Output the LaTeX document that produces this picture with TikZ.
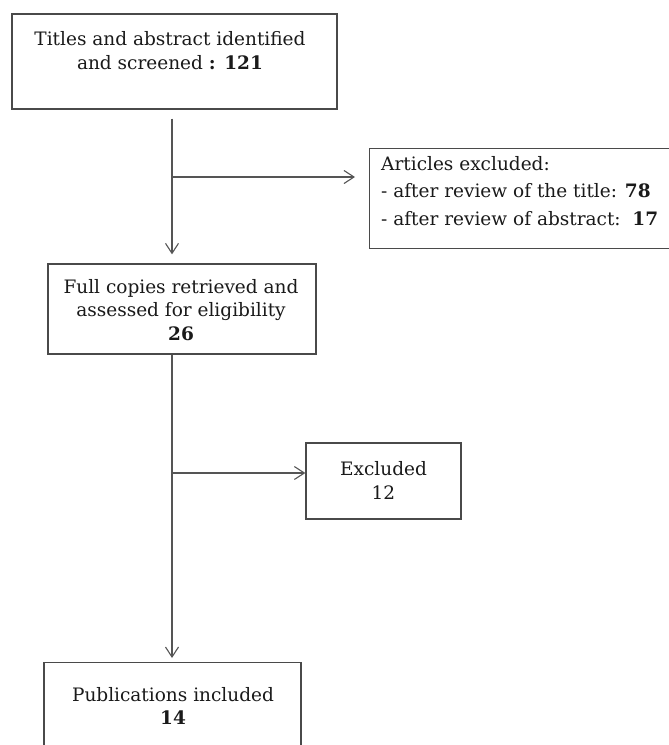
\documentclass[tikz,border=0pt]{standalone}
\usepackage{fontspec}
\setmainfont{DejaVu Serif}
\usetikzlibrary{arrows.meta}
\definecolor{boxline}{HTML}{4A4A4A}
\definecolor{conn}{HTML}{555555}
\definecolor{txt}{HTML}{1A1A1A}
\begin{document}
\begin{tikzpicture}[x=1pt,y=-1pt,
  boxshape/.style={draw=boxline,line width=1.3pt,rectangle,inner sep=0pt},
  lbl/.style={text=txt,font=\fontsize{18.5}{23.5}\selectfont,align=center,inner sep=0pt},
  arr/.style={draw=conn,line width=1.1pt,-{Straight Barb[length=10pt,width=13pt,line width=1.1pt]}},
  seg/.style={draw=conn,line width=1.1pt}]
\useasboundingbox (0,0) rectangle (669,745);
\clip (0,0) rectangle (669,745);
\fill[white] (0,0) rectangle (669,745);
% boxes
\node[boxshape,minimum width=325pt,minimum height=95pt] (b1) at (174.5,61.5) {};
\node[boxshape,minimum width=320pt,minimum height=100pt,anchor=north west] (b2) at (369,148) {};
\node[boxshape,minimum width=268pt,minimum height=90pt] (b3) at (182,309) {};
\node[boxshape,minimum width=155pt,minimum height=76pt] (b4) at (383.5,481) {};
\node[boxshape,minimum width=257pt,minimum height=110pt,anchor=north] (b5) at (172.5,662) {};
% texts
\node[lbl] (t1) at (170,50.5) {Titles and abstract identified\\and screened \textbf{: 121}};
\node[lbl,anchor=north west,align=left] (t2) at (381,156) {Articles excluded:\\[4pt]- after review of the title: \textbf{78}\\[4pt]- after review of abstract:\ \ \textbf{17}};
\node[lbl] (t3) at (181,310) {Full copies retrieved and\\assessed for eligibility\\\textbf{26}};
\node[lbl] (t4) at (383.5,480.5) {Excluded\\12};
\node[lbl] (t5) at (173,706) {Publications included\\\textbf{14}};
% connectors
\coordinate (spine) at (172,0);
\coordinate (j1) at (172,177);
\coordinate (j2) at (172,473);
\draw[arr,shorten <=9pt,shorten >=9pt] (b1.south -| spine) -- (b3.north -| spine);
\draw[arr,shorten >=14pt] (j1) -- (j1 -| b2.west);
\draw[seg] (b3.south -| spine) -- (j2);
\draw[arr] (j2) -- (j2 -| b4.west);
\draw[arr,shorten >=4pt] (j2) -- (b5.north -| spine);
\end{tikzpicture}
\end{document}
